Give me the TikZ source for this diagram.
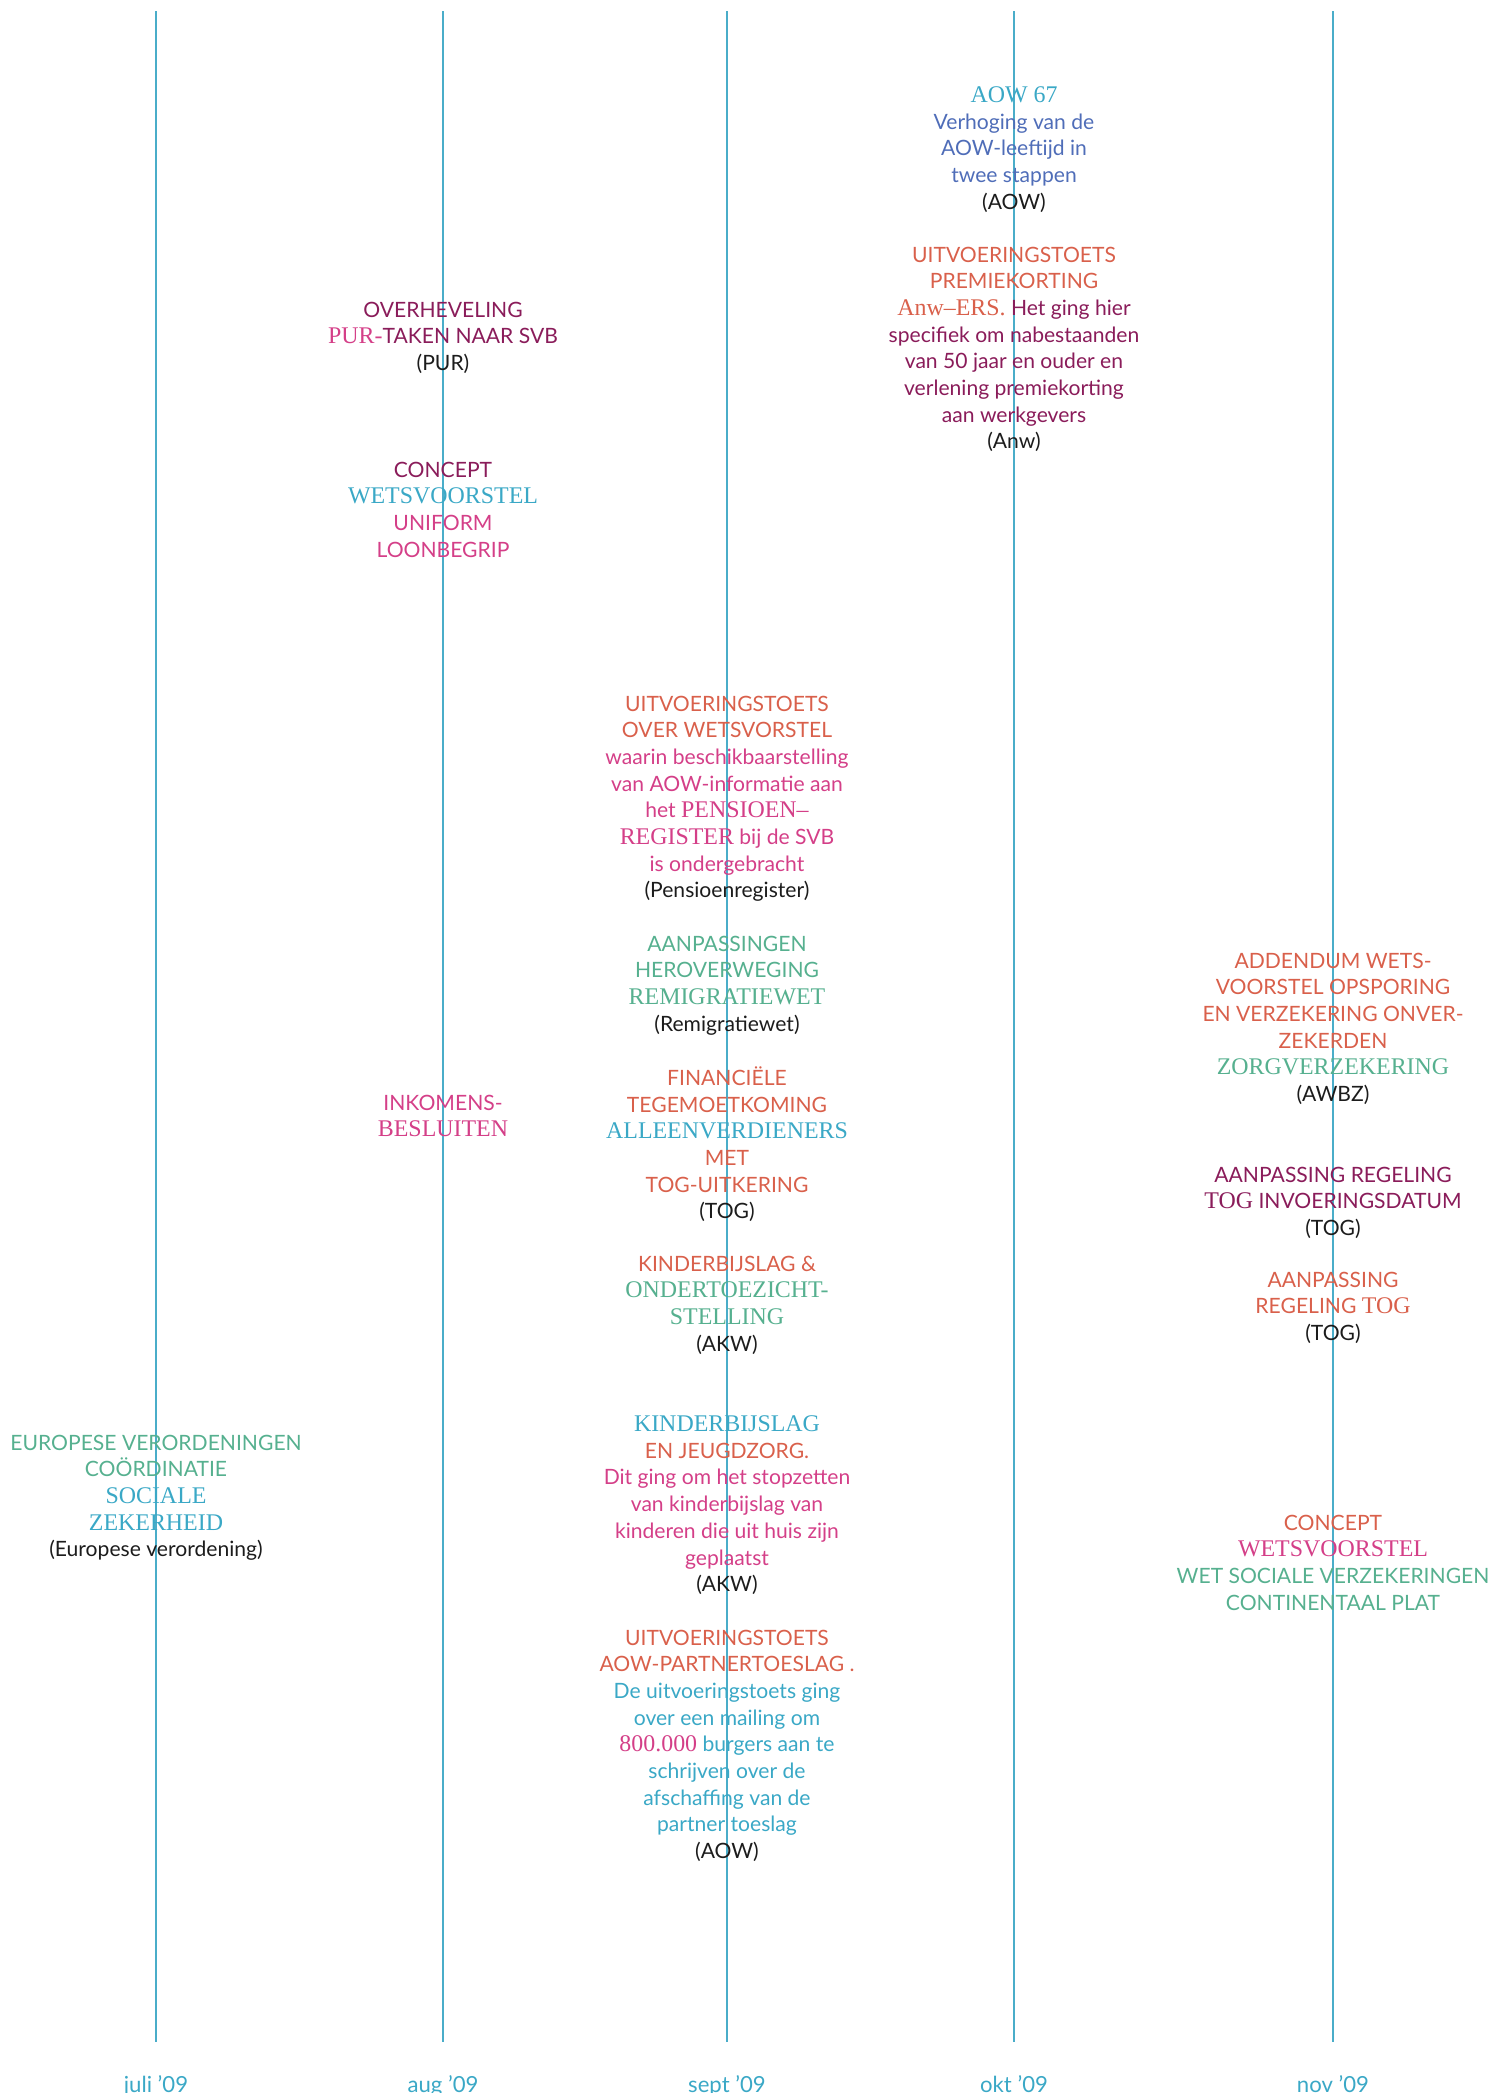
\documentclass[tikz,border=0pt]{standalone}
\usepackage{fontspec}
\setsansfont{Lato}
\newfontfamily\goudy{Liberation Serif}
\usepackage{xcolor}
\usepackage{tikz}
\usetikzlibrary{calc}

\definecolor{lijnblauw}{HTML}{4AADC9}
\definecolor{zeeblauw}{HTML}{3AA8C6}
\definecolor{blauw}{HTML}{4F6DB8}
\definecolor{koraal}{HTML}{D9604B}
\definecolor{paars}{HTML}{8A1C5A}
\definecolor{roze}{HTML}{D43F88}
\definecolor{groen}{HTML}{56B08F}
\definecolor{zwart}{HTML}{1C1C1C}

\newcommand{\kap}[1]{{\goudy\fontsize{6.8}{7.59}\selectfont #1}}
\newcommand{\wet}[1]{\textcolor{zwart}{(#1)}}

\tikzset{
    blok/.style={anchor=north, inner sep=0pt, align=center,
        font=\sffamily\fontsize{6}{7.59}\selectfont},
    maand/.style={anchor=base, inner sep=0pt, text=zeeblauw,
        font=\sffamily\fontsize{6.3}{7.59}\selectfont},
    tijdlijn/.style={draw=lijnblauw, line width=0.55pt}
}

\begin{document}
\begin{tikzpicture}[x=0.01cm, y=-0.01cm]
        \useasboundingbox (0,0) rectangle (1492,2093);

        \coordinate (jt) at (156,11);  \coordinate (jb) at (156,2042);
        \coordinate (at) at (443,11);  \coordinate (ab) at (443,2042);
        \coordinate (st) at (727,11);  \coordinate (sb) at (727,2042);
        \coordinate (ot) at (1014,11); \coordinate (ob) at (1014,2042);
        \coordinate (nt) at (1333,11); \coordinate (nb) at (1333,2042);

        \draw[tijdlijn] (jt) -- (jb);
        \draw[tijdlijn] (at) -- (ab);
        \draw[tijdlijn] (st) -- (sb);
        \draw[tijdlijn] (ot) -- (ob);
        \draw[tijdlijn] (nt) -- (nb);

        \draw (156,2092) node[maand](juli){juli ’09};
        \draw (443,2092) node[maand](aug){aug ’09};
        \draw (727,2092) node[maand](sept){sept ’09};
        \draw (1014,2092) node[maand](okt){okt ’09};
        \draw (1333,2092) node[maand](nov){nov ’09};

        % juli
        \draw (156,1434) node[blok, text=groen](europa){EUROPESE VERORDENINGEN\\
            COÖRDINATIE\\
            \textcolor{zeeblauw}{\kap{SOCIALE}}\\
            \textcolor{zeeblauw}{\kap{ZEKERHEID}}\\
            \wet{Europese verordening}};

        % aug
        \draw (443,301) node[blok, text=paars](pur){OVERHEVELING\\
            \textcolor{roze}{\kap{PUR-}}TAKEN NAAR SVB\\
            \wet{PUR}};
        \draw (443,461) node[blok, text=roze](uniform){\textcolor{paars}{CONCEPT}\\
            \textcolor{zeeblauw}{\kap{WETSVOORSTEL}}\\
            UNIFORM\\
            LOONBEGRIP};
        \draw (443,1094) node[blok, text=roze](inkomens){INKOMENS-\\
            \kap{BESLUITEN}};

        % sept
        \draw (727,695) node[blok, text=roze](pensioen){\textcolor{koraal}{UITVOERINGSTOETS}\\
            \textcolor{koraal}{OVER WETSVORSTEL}\\
            waarin beschikbaarstelling\\
            van AOW-informatie aan\\
            het \kap{PENSIOEN–}\\
            \kap{REGISTER} bij de SVB\\
            is ondergebracht\\
            \wet{Pensioenregister}};
        \draw (727,935) node[blok, text=groen](remigratie){AANPASSINGEN\\
            HEROVERWEGING\\
            \kap{REMIGRATIEWET}\\
            \wet{Remigratiewet}};
        \draw (727,1066) node[blok, text=koraal](tog){FINANCIËLE\\
            TEGEMOETKOMING\\
            \textcolor{zeeblauw}{\kap{ALLEENVERDIENERS}}\\
            MET\\
            TOG-UITKERING\\
            \wet{TOG}};
        \draw (727,1255) node[blok, text=koraal](toezicht){KINDERBIJSLAG \&\\
            \textcolor{groen}{\kap{ONDERTOEZICHT-}}\\
            \textcolor{groen}{\kap{STELLING}}\\
            \wet{AKW}};
        \draw (727,1415) node[blok, text=roze](jeugd){\textcolor{zeeblauw}{\kap{KINDERBIJSLAG}}\\
            \textcolor{koraal}{EN JEUGDZORG.}\\
            Dit ging om het stopzetten\\
            van kinderbijslag van\\
            kinderen die uit huis zijn\\
            geplaatst\\
            \wet{AKW}};
        \draw (727,1629) node[blok, text=zeeblauw](partner){\textcolor{koraal}{UITVOERINGSTOETS}\\
            \textcolor{koraal}{AOW-PARTNERTOESLAG .}\\
            De uitvoeringstoets ging\\
            over een mailing om\\
            \textcolor{roze}{\kap{800.000}} burgers aan te\\
            schrijven over de\\
            afschaffing van de\\
            partner toeslag\\
            \wet{AOW}};

        % okt
        \draw (1014,86) node[blok, text=blauw](aow){\textcolor{zeeblauw}{\kap{AOW 67}}\\
            Verhoging van de\\
            AOW-leeftijd in\\
            twee stappen\\
            \wet{AOW}};
        \draw (1014,246) node[blok, text=koraal](anw){UITVOERINGSTOETS\\
            PREMIEKORTING\\
            \kap{Anw–ERS.} \textcolor{paars}{Het ging hier}\\
            \textcolor{paars}{specifiek om nabestaanden}\\
            \textcolor{paars}{van 50 jaar en ouder en}\\
            \textcolor{paars}{verlening premiekorting}\\
            \textcolor{paars}{aan werkgevers}\\
            \wet{Anw}};

        % nov
        \draw (1333,952) node[blok, text=koraal](awbz){ADDENDUM WETS-\\
            VOORSTEL OPSPORING\\
            EN VERZEKERING ONVER-\\
            ZEKERDEN\\
            \textcolor{groen}{\kap{ZORGVERZEKERING}}\\
            \wet{AWBZ}};
        \draw (1333,1166) node[blok, text=paars](invoering){AANPASSING REGELING\\
            \kap{TOG} INVOERINGSDATUM\\
            \wet{TOG}};
        \draw (1333,1271) node[blok, text=koraal](regeling){AANPASSING\\
            REGELING \kap{TOG}\\
            \wet{TOG}};
        \draw (1333,1514) node[blok, text=groen](plat){\textcolor{koraal}{CONCEPT}\\
            \textcolor{roze}{\kap{WETSVOORSTEL}}\\
            WET SOCIALE VERZEKERINGEN\\
            CONTINENTAAL PLAT};
    \end{tikzpicture}
\end{document}
